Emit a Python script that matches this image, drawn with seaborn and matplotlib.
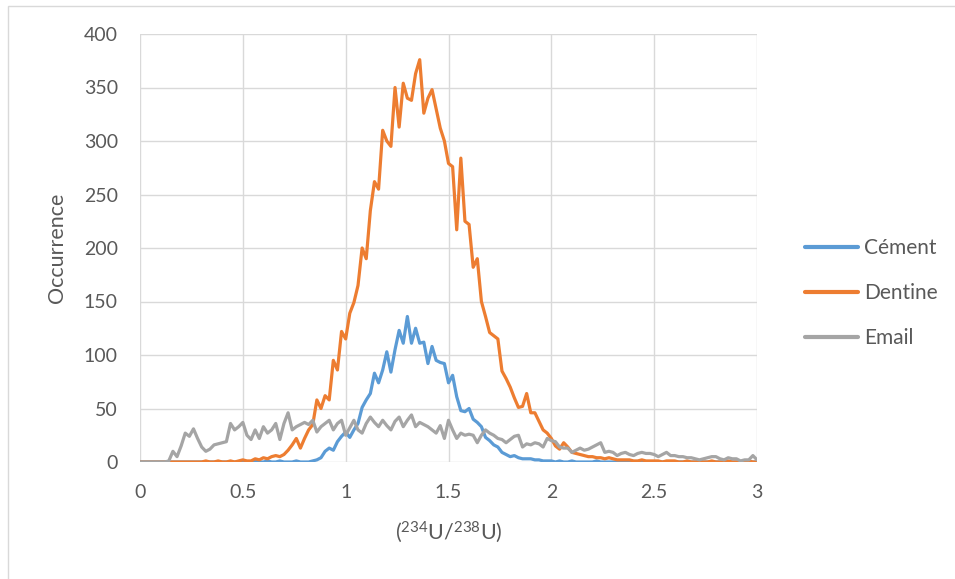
import numpy as np
import pandas as pd
import matplotlib
matplotlib.use("Agg")
import matplotlib.pyplot as plt
import seaborn as sns
from matplotlib.patches import Rectangle

# ratio bins 0.00 .. 3.00, step 0.02 (151 bins)
ratio = np.round(np.linspace(0, 3, 151), 2)

cement = [
    0, 0, 0, 0, 0, 0, 0, 0, 0, 0,
    0, 0, 0, 0, 0, 0, 0, 0, 0, 0,
    0, 0, 0, 0, 0, 1, 0, 0, 1, 0,
    0, 1, 0, 0, 1, 0, 0, 0, 1, 0,
    0, 0, 1, 2, 4, 10, 13, 11, 19, 24,
    28, 23, 30, 36, 51, 58, 64, 83, 74, 86,
    103, 84, 105, 123, 111, 136, 111, 125, 111, 112,
    92, 108, 95, 93, 92, 74, 81, 61, 48, 47,
    50, 40, 37, 33, 23, 20, 16, 14, 9, 7,
    5, 6, 4, 3, 3, 3, 2, 2, 1, 1,
    1, 0, 1, 0, 0, 1, 0, 0, 0, 0,
    0, 1, 0, 0, 0, 0, 0, 0, 0, 0,
    0, 0, 0, 0, 0, 0, 0, 0, 0, 0,
    0, 0, 0, 0, 0, 0, 0, 0, 0, 0,
    0, 0, 0, 0, 0, 0, 0, 0, 0, 0,
    0,
]

dentine = [
    0, 0, 0, 0, 0, 0, 0, 0, 0, 0,
    0, 0, 0, 0, 0, 0, 1, 0, 0, 1,
    0, 0, 1, 0, 1, 2, 1, 1, 3, 2,
    4, 3, 5, 6, 5, 7, 11, 16, 22, 13,
    22, 30, 35, 58, 50, 62, 58, 95, 86, 122,
    115, 139, 149, 165, 200, 190, 235, 262, 255, 310,
    300, 295, 350, 313, 354, 340, 338, 363, 376, 326,
    340, 348, 330, 312, 300, 279, 276, 217, 284, 225,
    222, 182, 190, 150, 136, 121, 118, 115, 85, 78,
    70, 60, 51, 52, 64, 46, 46, 38, 30, 27,
    22, 15, 12, 18, 14, 9, 8, 7, 6, 5,
    5, 4, 4, 3, 4, 3, 2, 2, 2, 2,
    1, 1, 2, 1, 1, 1, 1, 0, 1, 1,
    1, 0, 0, 1, 0, 0, 1, 0, 0, 1,
    0, 0, 0, 1, 0, 0, 0, 0, 1, 0,
    0,
]

email = [
    0, 0, 0, 0, 0, 0, 0, 1, 10, 5,
    15, 27, 24, 31, 22, 14, 10, 12, 16, 17,
    18, 19, 36, 30, 33, 37, 25, 21, 30, 22,
    33, 27, 30, 36, 21, 36, 46, 30, 33, 35,
    37, 35, 39, 28, 33, 36, 39, 30, 36, 39,
    25, 32, 39, 30, 27, 36, 42, 37, 33, 39,
    34, 30, 38, 42, 33, 39, 44, 33, 37, 35,
    33, 30, 27, 34, 22, 39, 30, 22, 27, 25,
    26, 25, 18, 25, 30, 27, 25, 22, 21, 18,
    21, 24, 25, 14, 17, 16, 18, 17, 14, 22,
    20, 19, 14, 13, 13, 9, 11, 13, 11, 12,
    14, 16, 18, 9, 10, 9, 6, 8, 9, 7,
    6, 8, 9, 8, 8, 7, 5, 7, 9, 6,
    6, 5, 5, 4, 4, 3, 2, 3, 4, 5,
    5, 3, 2, 4, 3, 3, 1, 2, 2, 6,
    2,
]

series_names = ["Cément", "Dentine", "Email"]
colors = ["#5B9BD5", "#ED7D31", "#A5A5A5"]

df = pd.DataFrame({
    "ratio": np.tile(ratio, 3),
    "count": cement + dentine + email,
    "tissue": np.repeat(series_names, len(ratio)),
})

sns.set_style("white")
plt.rcParams["font.family"] = ["Lato", "DejaVu Sans"]
plt.rcParams["mathtext.fontset"] = "custom"
plt.rcParams["mathtext.rm"] = "Lato"
plt.rcParams["mathtext.it"] = "Lato"

fig = plt.figure(figsize=(9.55, 5.79), dpi=100)
ax = fig.add_axes([140 / 955, 1 - 462 / 579, 617 / 955, 428 / 579])

sns.lineplot(
    data=df, x="ratio", y="count", hue="tissue",
    hue_order=series_names, palette=dict(zip(series_names, colors)),
    linewidth=2.3, ax=ax, legend=False,
)

ax.set_xlim(0, 3)
ax.set_ylim(0, 400)
ax.set_xticks([0, 0.5, 1, 1.5, 2, 2.5, 3])
ax.set_xticklabels(["0", "0.5", "1", "1.5", "2", "2.5", "3"])
ax.set_yticks(range(0, 401, 50))
ax.grid(True, color="#D9D9D9", linewidth=1.0)
ax.set_axisbelow(True)
for s in ax.spines.values():
    s.set_visible(False)
ax.tick_params(length=0, labelsize=14, labelcolor="#595959")
ax.tick_params(axis="y", pad=16)
ax.tick_params(axis="x", pad=16)

ax.set_xlabel(r"($^{234}$U/$^{238}$U)", fontsize=15.5, color="#595959", labelpad=13)
ax.set_ylabel("Occurrence", fontsize=15.5, color="#595959", labelpad=12)

# legend on the right
handles = [plt.Line2D([], [], color=c, linewidth=3) for c in colors]
fig.legend(
    handles, series_names, loc="center left",
    bbox_to_anchor=(805 / 955, 1 - 293 / 579), frameon=False,
    borderpad=0, borderaxespad=0,
    fontsize=15, labelcolor="#595959", handlelength=2.55,
    handletextpad=0.3, labelspacing=1.2,
)

# chart border like the spreadsheet frame
fig.patches.append(Rectangle((8 / 955, -0.05), 1.1, 1 - 6 / 579 + 0.05,
                             transform=fig.transFigure, fill=False,
                             edgecolor="#D9D9D9", linewidth=1.0))

fig.savefig("out.png", dpi=100, facecolor="white")
